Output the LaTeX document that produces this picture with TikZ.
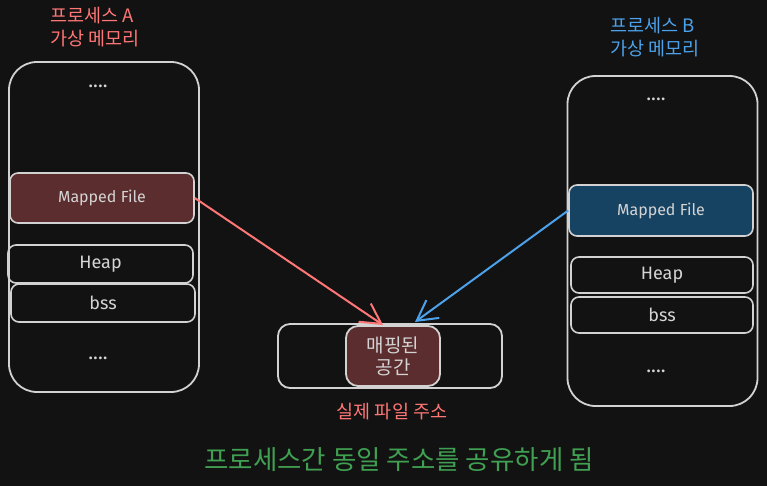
\documentclass[tikz,border=0pt]{standalone}
\usepackage{fontspec}
\setmainfont{Fira Sans}
\newfontfamily\kr{Noto Sans CJK KR}
\usetikzlibrary{arrows.meta}
\definecolor{bg}{HTML}{121212}
\definecolor{edge}{HTML}{D2D2D2}
\definecolor{txt}{HTML}{D4D4D4}
\definecolor{redfill}{HTML}{5C2D2E}
\definecolor{bluefill}{HTML}{174362}
\definecolor{redtxt}{HTML}{FF7676}
\definecolor{bluetxt}{HTML}{4CA2EA}
\definecolor{greentxt}{HTML}{40A052}
\tikzset{
  memory/.style={draw=edge, line width=1.8pt, rounded corners=28pt, minimum width=190pt, minimum height=330pt, inner sep=0pt},
  segbox/.style={draw=edge, line width=1.6pt, rounded corners=8pt, inner sep=0pt, text=txt, font=\fontsize{18}{20}\selectfont},
  mapbox/.style={segbox, font=\fontsize{16}{18}\selectfont},
  dots/.style={text=txt, font=\fontsize{20}{20}\selectfont},
  title/.style={font=\kr\fontsize{18.5}{23}\selectfont, align=left, anchor=west, inner sep=0pt},
  arr/.style={line width=2pt, -{Straight Barb[length=20pt,width=22pt]}}
}
\begin{document}
\begin{tikzpicture}[x=1pt,y=-1pt]
\fill[bg] (0,0) rectangle (767,486);
\useasboundingbox (0,0) rectangle (767,486);

% Process A
\node[title, text=redtxt] (titleA) at (50,27) {프로세스 A\\가상 메모리};
\node[memory] (memA) at (104,227) {};
\node[dots] (dotsA1) at (98,86) {....};
\node[mapbox, fill=redfill, minimum width=184pt, minimum height=50pt] (mapA) at (102,198) {Mapped File};
\node[segbox, minimum width=185pt, minimum height=38pt] (heapA) at (100.5,264) {Heap};
\node[segbox, minimum width=184pt, minimum height=38pt] (bssA) at (103,303) {bss};
\node[dots] (dotsA2) at (98,358) {....};

% Process B
\node[title, text=bluetxt] (titleB) at (610,37) {프로세스 B\\가상 메모리};
\node[memory] (memB) at (662.5,241) {};
\node[dots] (dotsB1) at (656,99) {....};
\node[mapbox, fill=bluefill, minimum width=184pt, minimum height=51pt] (mapB) at (661,210.5) {Mapped File};
\node[segbox, minimum width=182pt, minimum height=36pt] (heapB) at (662,275) {Heap};
\node[segbox, minimum width=182pt, minimum height=36pt] (bssB) at (662,315) {bss};
\node[dots] (dotsB2) at (656,371) {....};

% Shared
\node[draw=edge, line width=1.8pt, rounded corners=12pt, minimum width=224pt, minimum height=64pt] (phys) at (390,356) {};
\node[draw=edge, line width=1.8pt, rounded corners=12pt, fill=redfill, minimum width=94pt, minimum height=60pt, inner sep=0pt, text=txt, align=center, font=\kr\fontsize{19}{22}\selectfont] (shared) at (393,356) {매핑된\\공간};
\node[text=redtxt, font=\kr\fontsize{18.5}{20}\selectfont] (physlbl) at (392,412) {실제 파일 주소};
\node[text=greentxt, font=\kr\fontsize{26.5}{28}\selectfont] (summary) at (399,460) {프로세스간 동일 주소를 공유하게 됨};

\coordinate (tipA) at (383,325);
\coordinate (tipB) at (415,322);
\draw[arr, draw=redtxt] (mapA.east) -- (tipA);
\draw[arr, draw=bluetxt] (mapB.west) -- (tipB);
\end{tikzpicture}
\end{document}
